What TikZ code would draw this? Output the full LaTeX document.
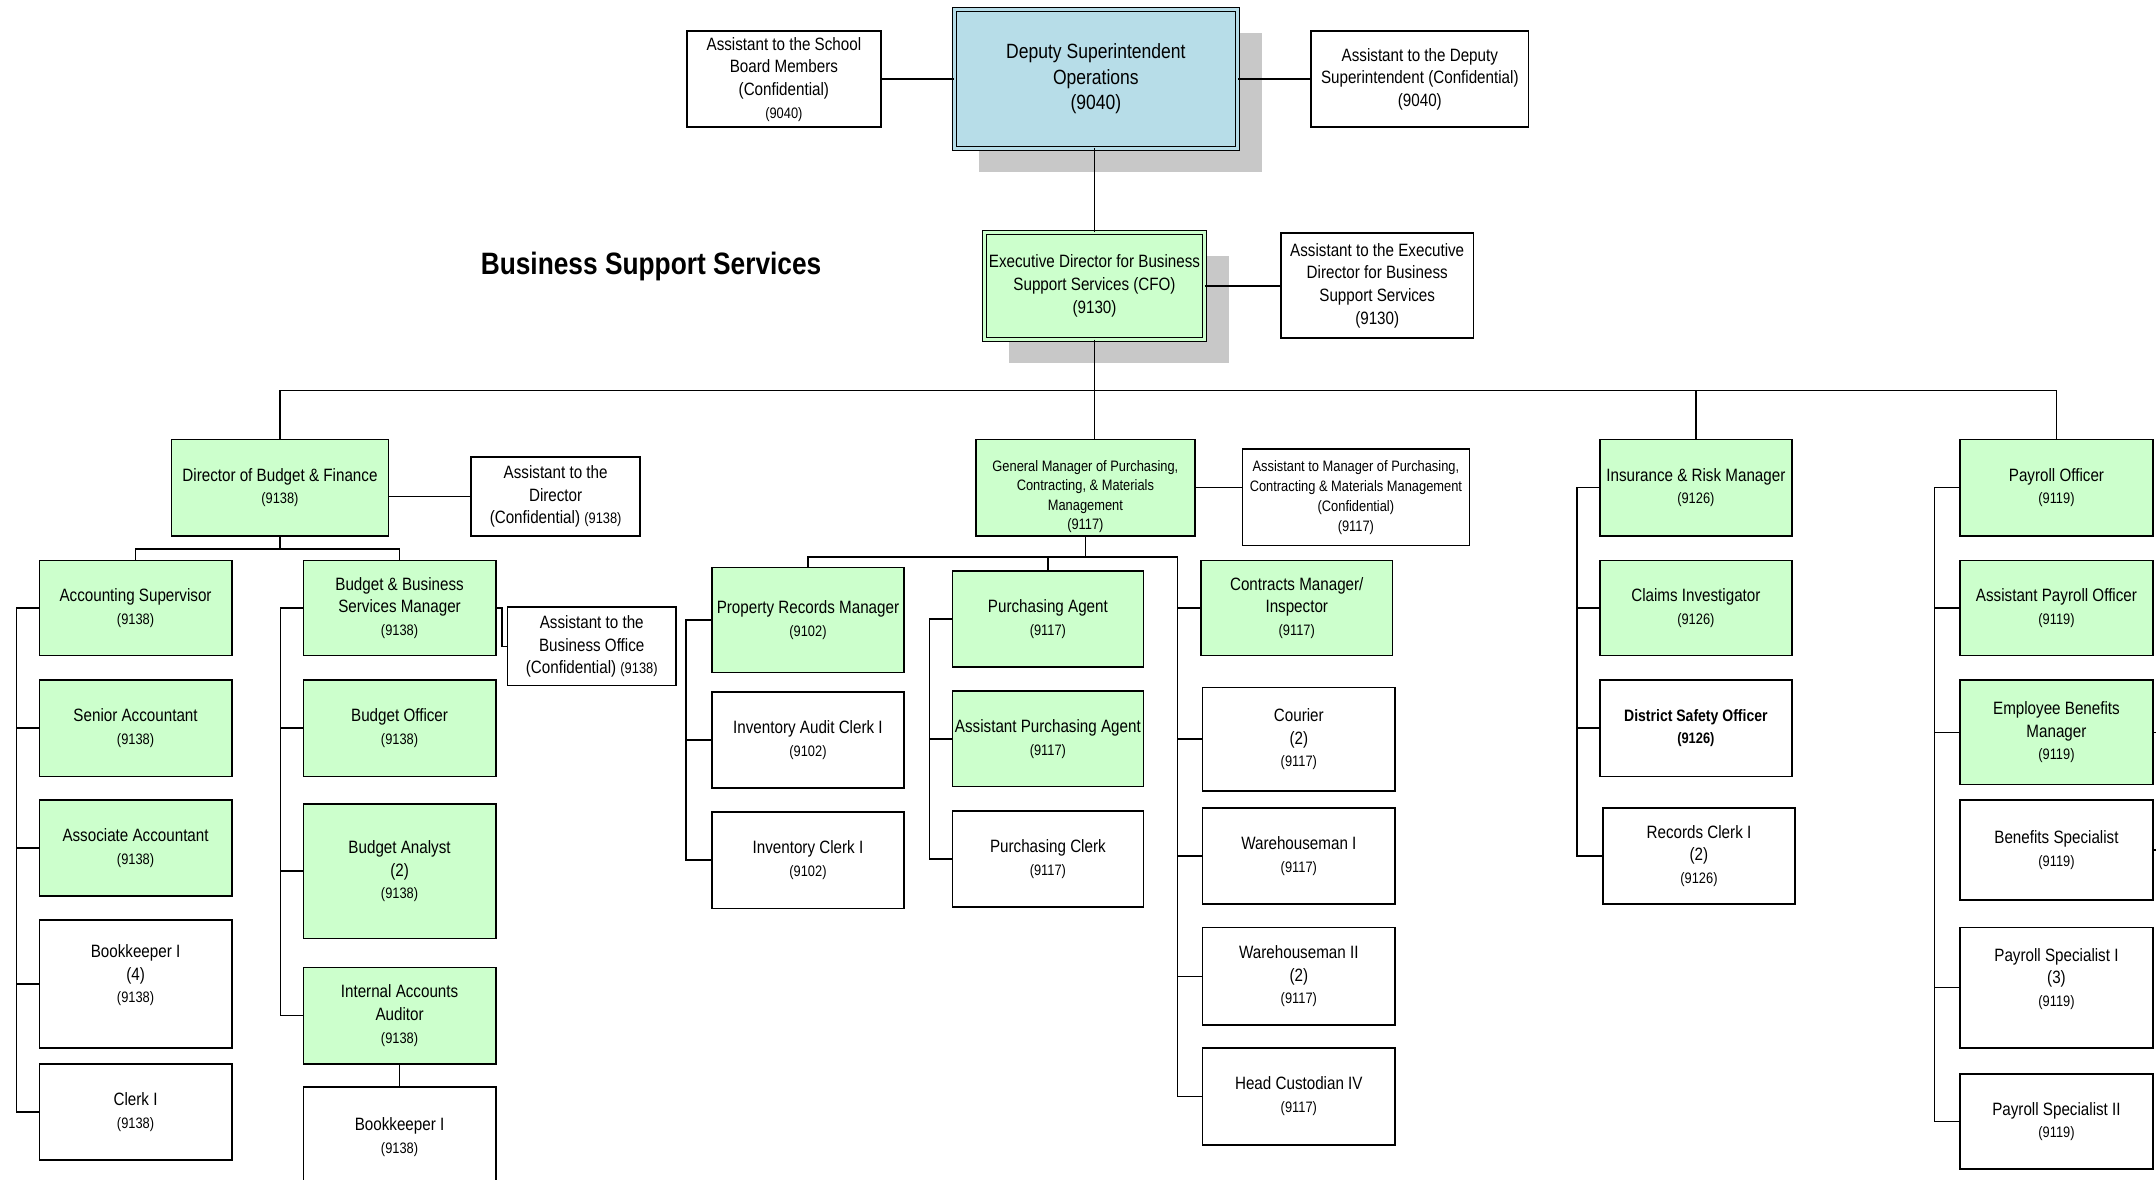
\documentclass[tikz,border=0pt]{standalone}
\usepackage{fontspec}
\setmainfont{Liberation Sans}[FakeStretch=0.85]
\usetikzlibrary{shadows}
\definecolor{leadgreen}{RGB}{204,255,204}
\definecolor{topblue}{RGB}{183,221,232}
\definecolor{shadegray}{RGB}{200,200,200}
\newcommand{\jobno}[1]{{\fontsize{11}{16.5}\selectfont #1}}

\begin{document}
\begin{tikzpicture}[x=1pt, y=-1pt,
  post/.style={draw, line width=1.2pt, anchor=north west, minimum width=140pt, minimum height=69pt,
    inner sep=1pt, align=center, font=\fontsize{13}{16.5}\selectfont},
  lead/.style={post, fill=leadgreen},
  chief/.style={post, outer sep=0pt, line width=0.9pt, double distance=2.2pt,
    drop shadow={shadow xshift=18pt, shadow yshift=-17pt, fill=shadegray, opacity=1}},
  link/.style={line width=1.1pt}]

\clip (0,0) rectangle (1568,858);

% top of the chart
\node[post, minimum width=141pt, minimum height=70pt] (asb) at (499,22) {Assistant to the School\\Board Members\\(Confidential)\\\jobno{(9040)}};
\node[chief, fill=topblue, double=topblue, minimum width=206pt, minimum height=101pt, font=\fontsize{15}{18.5}\selectfont] (dep) at (694,7) {Deputy Superintendent\\Operations\\(9040)};
\node[post, minimum width=158pt, minimum height=70pt] (asd) at (953,22) {Assistant to the Deputy\\Superintendent (Confidential)\\(9040)};
\node[font=\bfseries\fontsize{22.5}{26}\selectfont, anchor=base] (head) at (473.5,199.5) {Business Support Services};
\node[chief, fill=leadgreen, double=leadgreen, minimum width=160pt, minimum height=78pt] (exe) at (716,169) {Executive Director for Business\\Support Services (CFO)\\(9130)};
\node[post, minimum height=76pt] (ase) at (931,169) {Assistant to the Executive\\Director for Business\\Support Services\\(9130)};

% second row
\node[lead, minimum width=158pt, minimum height=70pt] (dbf) at (124,319) {Director of Budget \& Finance\\\jobno{(9138)}};
\node[post, minimum width=123pt, minimum height=57pt] (asdir) at (342,332) {Assistant to the\\Director\\(Confidential) \jobno{(9138)}};
\node[lead, minimum width=159.5pt, minimum height=70pt, text height=63pt, font=\fontsize{11}{14}\selectfont] (gmp) at (709,319) {General Manager of Purchasing,\\Contracting, \& Materials\\Management\\(9117)};
\node[post, minimum width=165pt, minimum height=70pt, font=\fontsize{11}{14.5}\selectfont] (asgm) at (903,326) {Assistant to Manager of Purchasing,\\Contracting \& Materials Management\\(Confidential)\\(9117)};
\node[lead, minimum width=139.5pt, minimum height=70pt] (irm) at (1163,319) {Insurance \& Risk Manager\\\jobno{(9126)}};
\node[lead, minimum height=70pt] (pro) at (1425,319) {Payroll Officer\\\jobno{(9119)}};

% budget & finance
\node[lead] (acs) at (28,407) {Accounting Supervisor\\\jobno{(9138)}};
\node[lead, minimum height=70pt] (sac) at (28,494) {Senior Accountant\\\jobno{(9138)}};
\node[lead, minimum height=70pt] (aac) at (28,581) {Associate Accountant\\\jobno{(9138)}};
\node[post, minimum height=93pt, text depth=15pt] (bk4) at (28,668.5) {Bookkeeper I\\(4)\\\jobno{(9138)}};
\node[post, minimum height=70pt] (clk) at (28,773) {Clerk I\\\jobno{(9138)}};
\node[lead] (bbm) at (220,407) {Budget \& Business\\Services Manager\\\jobno{(9138)}};
\node[post, minimum width=122.5pt, minimum height=57pt] (asbo) at (368.5,441) {Assistant to the\\Business Office\\(Confidential) \jobno{(9138)}};
\node[lead, minimum height=70pt] (bof) at (220,494) {Budget Officer\\\jobno{(9138)}};
\node[lead, minimum height=98pt] (ban) at (220,584) {Budget Analyst\\(2)\\\jobno{(9138)}};
\node[lead, minimum height=70pt] (iaa) at (220,703) {Internal Accounts\\Auditor\\\jobno{(9138)}};
\node[post, minimum height=73pt] (bk1) at (220,790) {Bookkeeper I\\\jobno{(9138)}};

% purchasing
\node[lead, minimum height=76.5pt] (prm) at (517,412) {Property Records Manager\\\jobno{(9102)}};
\node[post, minimum height=70pt] (iac) at (517,502.5) {Inventory Audit Clerk I\\\jobno{(9102)}};
\node[post, minimum height=70pt] (icl) at (517,590) {Inventory Clerk I\\\jobno{(9102)}};
\node[lead, minimum width=139pt, minimum height=70pt] (pag) at (692,414.5) {Purchasing Agent\\\jobno{(9117)}};
\node[lead, minimum width=139pt, minimum height=69.5pt] (apa) at (692,502) {Assistant Purchasing Agent\\\jobno{(9117)}};
\node[post, minimum width=139pt, minimum height=70pt] (pcl) at (692,589) {Purchasing Clerk\\\jobno{(9117)}};
\node[lead, minimum width=139pt] (cmi) at (873,407) {Contracts Manager/\\Inspector\\\jobno{(9117)}};
\node[post, minimum height=75pt] (cou) at (874,499.5) {Courier\\(2)\\\jobno{(9117)}};
\node[post, minimum height=70pt] (wh1) at (874,587) {Warehouseman I\\\jobno{(9117)}};
\node[post, minimum height=71pt] (wh2) at (874,674) {Warehouseman II\\(2)\\\jobno{(9117)}};
\node[post, minimum height=70.5pt] (hc4) at (874,761.5) {Head Custodian IV\\\jobno{(9117)}};

% insurance
\node[lead, minimum width=139.5pt] (cin) at (1163,407) {Claims Investigator\\\jobno{(9126)}};
\node[post, minimum width=139.5pt, minimum height=70pt, font=\bfseries\fontsize{12}{16.5}\selectfont] (dso) at (1163,494) {District Safety Officer\\\jobno{(9126)}};
\node[post, minimum height=70pt] (rcl) at (1165,587) {Records Clerk I\\(2)\\\jobno{(9126)}};

% payroll
\node[lead] (apo) at (1425,407) {Assistant Payroll Officer\\\jobno{(9119)}};
\node[lead, minimum height=76pt] (ebm) at (1425,494) {Employee Benefits\\Manager\\\jobno{(9119)}};
\node[post, minimum height=73pt] (bsp) at (1425,581) {Benefits Specialist\\\jobno{(9119)}};
\node[post, minimum height=87.5pt, text depth=15pt] (ps1) at (1425,674) {Payroll Specialist I\\(3)\\\jobno{(9119)}};
\node[post] (ps2) at (1425,780.5) {Payroll Specialist II\\\jobno{(9119)}};

% lines
\draw[link] (asb.east) -- (asb.east -| dep.west);
\draw[link] (asd.west) -- (asd.west -| dep.east);
\draw[link] (exe.north) -- (exe.north |- dep.south);
\draw[link] (exe.east) -- (exe.east -| ase.west);
\draw[link] (exe.south) -- (exe.south |- gmp.north);
\coordinate (bus) at (0,284);
\draw[link] (dbf.north) |- (bus -| pro.north) -- (pro.north);
\draw[link] (irm.north) -- (irm.north |- bus);

\draw[link] (asdir.west) -- (asdir.west -| dbf.east);
\draw[link] (dbf.south) -- ++(0,9) coordinate (dbfj);
\draw[link] (acs.north) |- (dbfj) -| (bbm.north);
\draw[link] (acs.west) -- ++(-16,0) |- (clk.west);
\foreach \n in {sac,aac,bk4} \draw[link] (\n.west) -- ++(-16,0);
\draw[link] (bbm.west) -- ++(-16,0) |- (iaa.west);
\foreach \n in {bof,ban} \draw[link] (\n.west) -- ++(-16,0);
\draw[link] (iaa) -- (bk1);
\draw[link] (bbm.east) -- ++(4,0) |- (asbo.west);

\draw[link] (gmp.east) -- (gmp.east -| asgm.west);
\draw[link] (gmp.south) -- ++(0,15) coordinate (gmpj);
\draw[link] (cmi.west) -- ++(-16.5,0) coordinate (cmib);
\draw[link] (prm.north) |- (gmpj) -- (gmpj -| cmib) -- (cmib) |- (hc4.west);
\draw[link] (pag.north) -- (pag.north |- gmpj);
\foreach \n in {cou,wh1,wh2} \draw[link] (\n.west) -- ++(-17.5,0);
\draw[link] (prm.west) -- ++(-18,0) |- (icl.west);
\draw[link] (iac.west) -- ++(-18,0);
\draw[link] (pag.west) -- ++(-16,0) |- (pcl.west);
\draw[link] (apa.west) -- ++(-16,0);

\draw[link] (irm.west) -- ++(-16,0) |- (rcl.west);
\foreach \n in {cin,dso} \draw[link] (\n.west) -- ++(-16,0);
\draw[link] (pro.west) -- ++(-18,0) |- (ps2.west);
\foreach \n in {apo,ebm,ps1} \draw[link] (\n.west) -- ++(-18,0);
\draw[link] (ebm.east) -- ++(12,0) |- (bsp.east);
\end{tikzpicture}
\end{document}
